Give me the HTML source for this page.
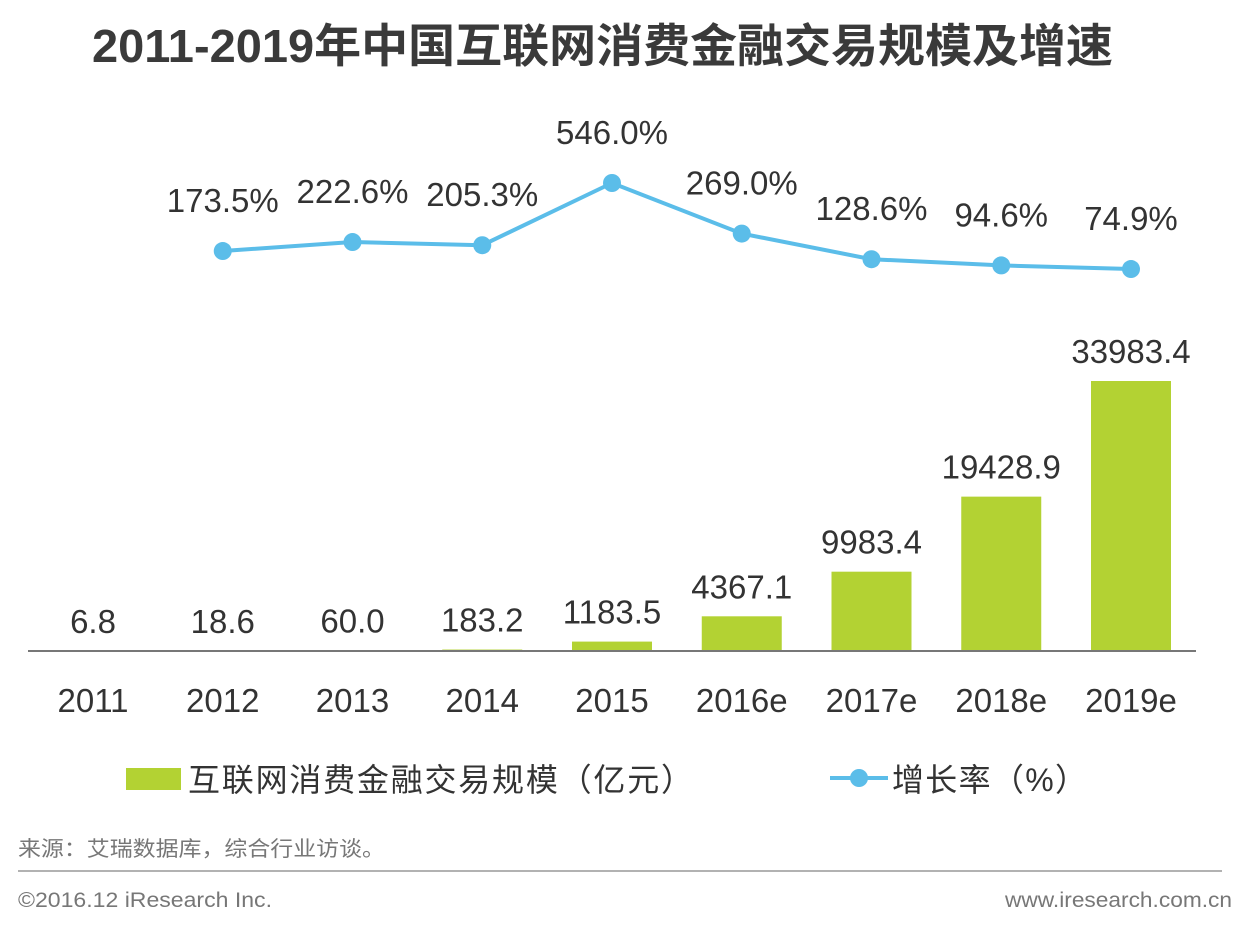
<!DOCTYPE html>
<html><head><meta charset="utf-8"><style>
body{margin:0;width:1240px;height:925px;background:#fff;font-family:"Liberation Sans","Noto Sans CJK SC",sans-serif;overflow:hidden}
</style></head><body>
<svg width="1240" height="925" xmlns="http://www.w3.org/2000/svg" font-family="Liberation Sans, Noto Sans CJK SC, sans-serif">
<text x="92" y="62" textLength="1021" lengthAdjust="spacingAndGlyphs" font-size="46" font-weight="bold" fill="#3a3a3a">2011-2019年中国互联网消费金融交易规模及增速</text>
<g id="bars"></g><g id="line"></g>
<line x1="28" y1="651" x2="1196" y2="651" stroke="#777" stroke-width="2"/>
<rect x="126" y="768" width="55" height="22" fill="#b3d233"/>
<text x="188" y="791" textLength="505" lengthAdjust="spacing" font-size="32" fill="#333">互联网消费金融交易规模（亿元）</text>
<line x1="830" y1="778" x2="888" y2="778" stroke="#5bbde9" stroke-width="4"/>
<circle cx="859" cy="778" r="9" fill="#5bbde9"/>
<text x="892" y="791" textLength="195" lengthAdjust="spacing" font-size="32" fill="#333">增长率（%）</text>
<text x="18" y="856" textLength="367" lengthAdjust="spacingAndGlyphs" font-size="21" fill="#777">来源：艾瑞数据库，综合行业访谈。</text>
<line x1="18" y1="871" x2="1222" y2="871" stroke="#999" stroke-width="1.5"/>
<text x="18" y="907" textLength="254" lengthAdjust="spacingAndGlyphs" font-size="21" fill="#777">©2016.12 iResearch Inc.</text>
<text x="1005" y="907" textLength="227" lengthAdjust="spacingAndGlyphs" font-size="21" fill="#777">www.iresearch.com.cn</text>
</svg>
<script>
const categories=["2011","2012","2013","2014","2015","2016e","2017e","2018e","2019e"];
const scaleValues=[6.8,18.6,60.0,183.2,1183.5,4367.1,9983.4,19428.9,33983.4];
const scaleLabels=["6.8","18.6","60.0","183.2","1183.5","4367.1","9983.4","19428.9","33983.4"];
const growthValues=[null,173.5,222.6,205.3,546.0,269.0,128.6,94.6,74.9];
const growthLabels=["","173.5%","222.6%","205.3%","546.0%","269.0%","128.6%","94.6%","74.9%"];
const NS="http://www.w3.org/2000/svg";
const xC=i=>93+i*129.75;
const yBar=v=>651-v*0.007945;
const yLine=v=>282.7-v*0.1826;
const bars=document.getElementById('bars'),line=document.getElementById('line');
function mk(tag,attrs,parent,txt){const e=document.createElementNS(NS,tag);for(const k in attrs)e.setAttribute(k,attrs[k]);if(txt!==undefined)e.textContent=txt;parent.appendChild(e);return e;}
categories.forEach((c,i)=>{
  const v=scaleValues[i],top=yBar(v);
  const r=mk('rect',{x:xC(i)-40,y:top,width:80,height:651-top,fill:'#b3d233'},bars);
  
  
  const t=mk('text',{x:xC(i),y:top-18,'text-anchor':'middle','font-size':33,fill:'#333'},bars,scaleLabels[i]);
  
  
  const xl=mk('text',{x:xC(i),y:712,'text-anchor':'middle','font-size':33,fill:'#333'},bars,c);
  
  
});
let pts=[];
growthValues.forEach((v,i)=>{if(v!==null)pts.push([xC(i),yLine(v),i]);});
const pl=mk('polyline',{points:pts.map(p=>p[0]+','+p[1]).join(' '),fill:'none',stroke:'#5bbde9','stroke-width':4},line);


pts.forEach(p=>{
  const c=mk('circle',{cx:p[0],cy:p[1],r:9,fill:'#5bbde9'},line);
  
  
  const t=mk('text',{x:p[0],y:p[1]-39,'text-anchor':'middle','font-size':33,fill:'#333'},line,growthLabels[p[2]]);
  
  
});
</script>
</body></html>
